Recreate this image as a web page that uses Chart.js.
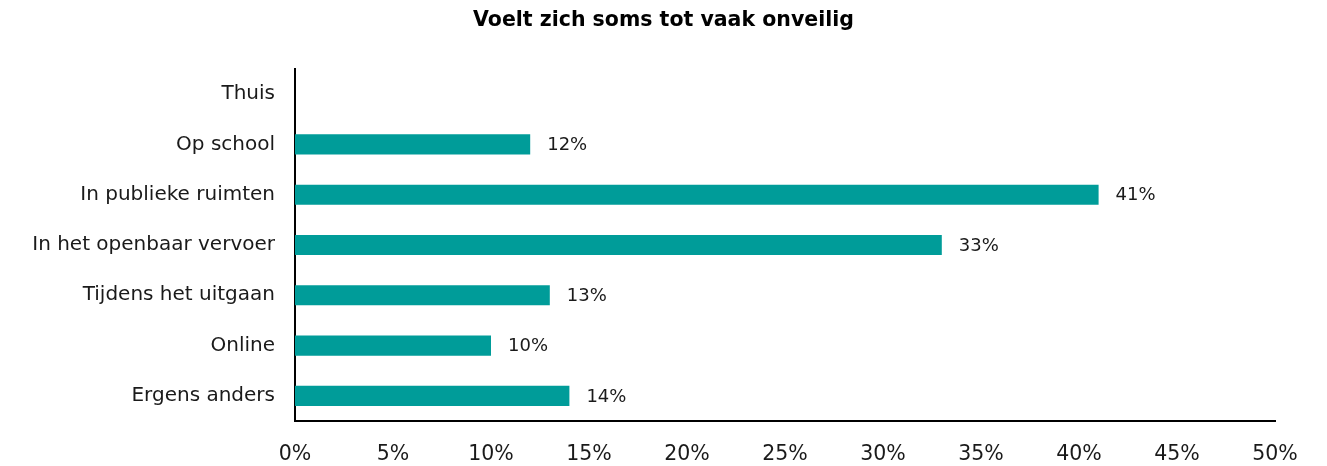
<!DOCTYPE html>
<html>
<head>
<meta charset="utf-8">
<script src="https://cdn.jsdelivr.net/npm/chart.js@4"></script>
<style>
  html, body { margin: 0; padding: 0; background: #fff; }
  #wrap { width: 1327px; height: 466px; }
</style>
</head>
<body>
<div id="wrap"><canvas id="mycanvas"></canvas></div>
<script>
var chartTitle = 'Voelt zich soms tot vaak onveilig';
var categories = ['Thuis', 'Op school', 'In publieke ruimten', 'In het openbaar vervoer', 'Tijdens het uitgaan', 'Online', 'Ergens anders'];
var percentages = [null, 12, 41, 33, 13, 10, 14];
var tickValues = [0, 5, 10, 15, 20, 25, 30, 35, 40, 45, 50];

var fontFamily = "'DejaVu Sans', sans-serif";

// writes the percentage next to each bar
var valueLabels = {
  id: 'valueLabels',
  afterDatasetsDraw: function(chart) {
    var ctx = chart.ctx;
    var meta = chart.getDatasetMeta(0);
    ctx.save();
    ctx.font = '18px ' + fontFamily;
    ctx.fillStyle = '#1a1a1a';
    ctx.textAlign = 'left';
    ctx.textBaseline = 'middle';
    meta.data.forEach(function(bar, i) {
      var v = percentages[i];
      if (v === null) return;
      ctx.fillText(v + '%', bar.x + 17, bar.y + 1);
    });
    ctx.restore();
  }
};

// title centred on the whole canvas, not just the plot area
var pageTitle = {
  id: 'pageTitle',
  afterDraw: function(chart) {
    var ctx = chart.ctx;
    ctx.save();
    ctx.font = 'bold 20.5px ' + fontFamily;
    ctx.fillStyle = '#000';
    ctx.textAlign = 'center';
    ctx.textBaseline = 'middle';
    ctx.fillText(chartTitle, chart.width / 2, 21);
    ctx.restore();
  }
};

var chartdata = {
  labels: categories,
  datasets: [{
    label: chartTitle,
    backgroundColor: '#009c99',
    borderWidth: 0,
    data: percentages,
    barPercentage: 0.4,
    categoryPercentage: 1
  }]
};

var ctx = document.getElementById('mycanvas');
var barGraph = new Chart(ctx, {
  type: 'bar',
  data: chartdata,
  plugins: [valueLabels, pageTitle],
  options: {
    indexAxis: 'y',
    responsive: true,
    maintainAspectRatio: false,
    animation: false,
    layout: { padding: { left: 0, right: 52, top: 69, bottom: 0 } },
    plugins: {
      legend: { display: false },
      tooltip: { enabled: false },
      title: { display: false }
    },
    scales: {
      x: {
        min: 0,
        max: 50,
        afterBuildTicks: function(scale) {
          scale.ticks = tickValues.map(function(v) { return { value: v }; });
        },
        afterFit: function(scale) { scale.height = 45; },
        grid: { display: false, drawTicks: false },
        border: { display: true, color: '#000', width: 2 },
        ticks: {
          padding: 21,
          color: '#1a1a1a',
          font: { family: fontFamily, size: 20.5 },
          maxRotation: 0,
          callback: function(value) { return value + '%'; }
        }
      },
      y: {
        afterFit: function(scale) { scale.width = 295; },
        grid: { display: false, drawTicks: false },
        border: { display: true, color: '#000', width: 2 },
        ticks: {
          padding: 20,
          color: '#1a1a1a',
          font: { family: fontFamily, size: 20 }
        }
      }
    }
  }
});
</script>
</body>
</html>
